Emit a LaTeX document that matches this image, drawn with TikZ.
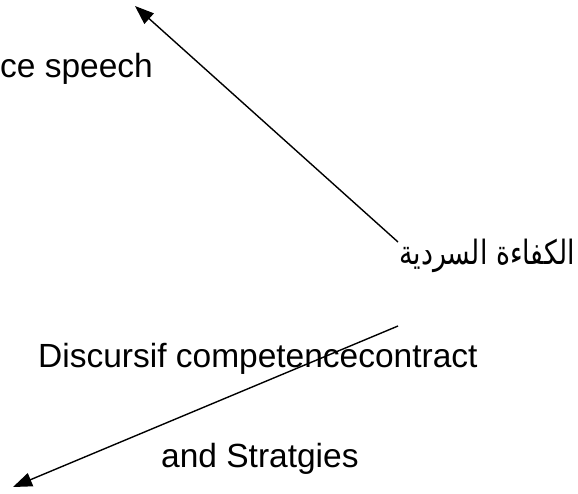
\documentclass[tikz,border=0pt]{standalone}
\usepackage{fontspec}
\setmainfont{Liberation Sans}
\newfontfamily\arabicfont[Script=Arabic,FakeStretch=0.8]{DejaVu Sans}
\TeXXeTstate=1
\usetikzlibrary{arrows.meta}
\tikzset{
  labeltext/.style={inner sep=0pt, font=\fontsize{33.5}{40}\selectfont},
  pointer/.style={line width=1.4pt, -{Triangle[length=19pt,width=14pt]}}
}
\begin{document}
\begin{tikzpicture}[x=1pt,y=-1pt]
    \useasboundingbox (0,0) rectangle (578,493);
    %% Labels
    \node[labeltext, anchor=base west] (speech) at (0,77) {ce speech};
    \node[labeltext, anchor=base east] (narrative) at (575,264) {\arabicfont\beginR الكفاءة السردية\endR};
    \node[labeltext, anchor=base west] (discursif) at (38,367) {Discursif competencecontract};
    \node[labeltext, anchor=base west] (strategies) at (161,467) {and Stratgies};
    %% Arrow ends
    \coordinate (upstart) at (398,242);
    \coordinate (uptip) at (135,6);
    \coordinate (downstart) at (398,326);
    \coordinate (downtip) at (13,487);
    %% Arrows
    \draw[pointer] (upstart) -- (uptip);
    \draw[pointer] (downstart) -- (downtip);
\end{tikzpicture}
\end{document}
